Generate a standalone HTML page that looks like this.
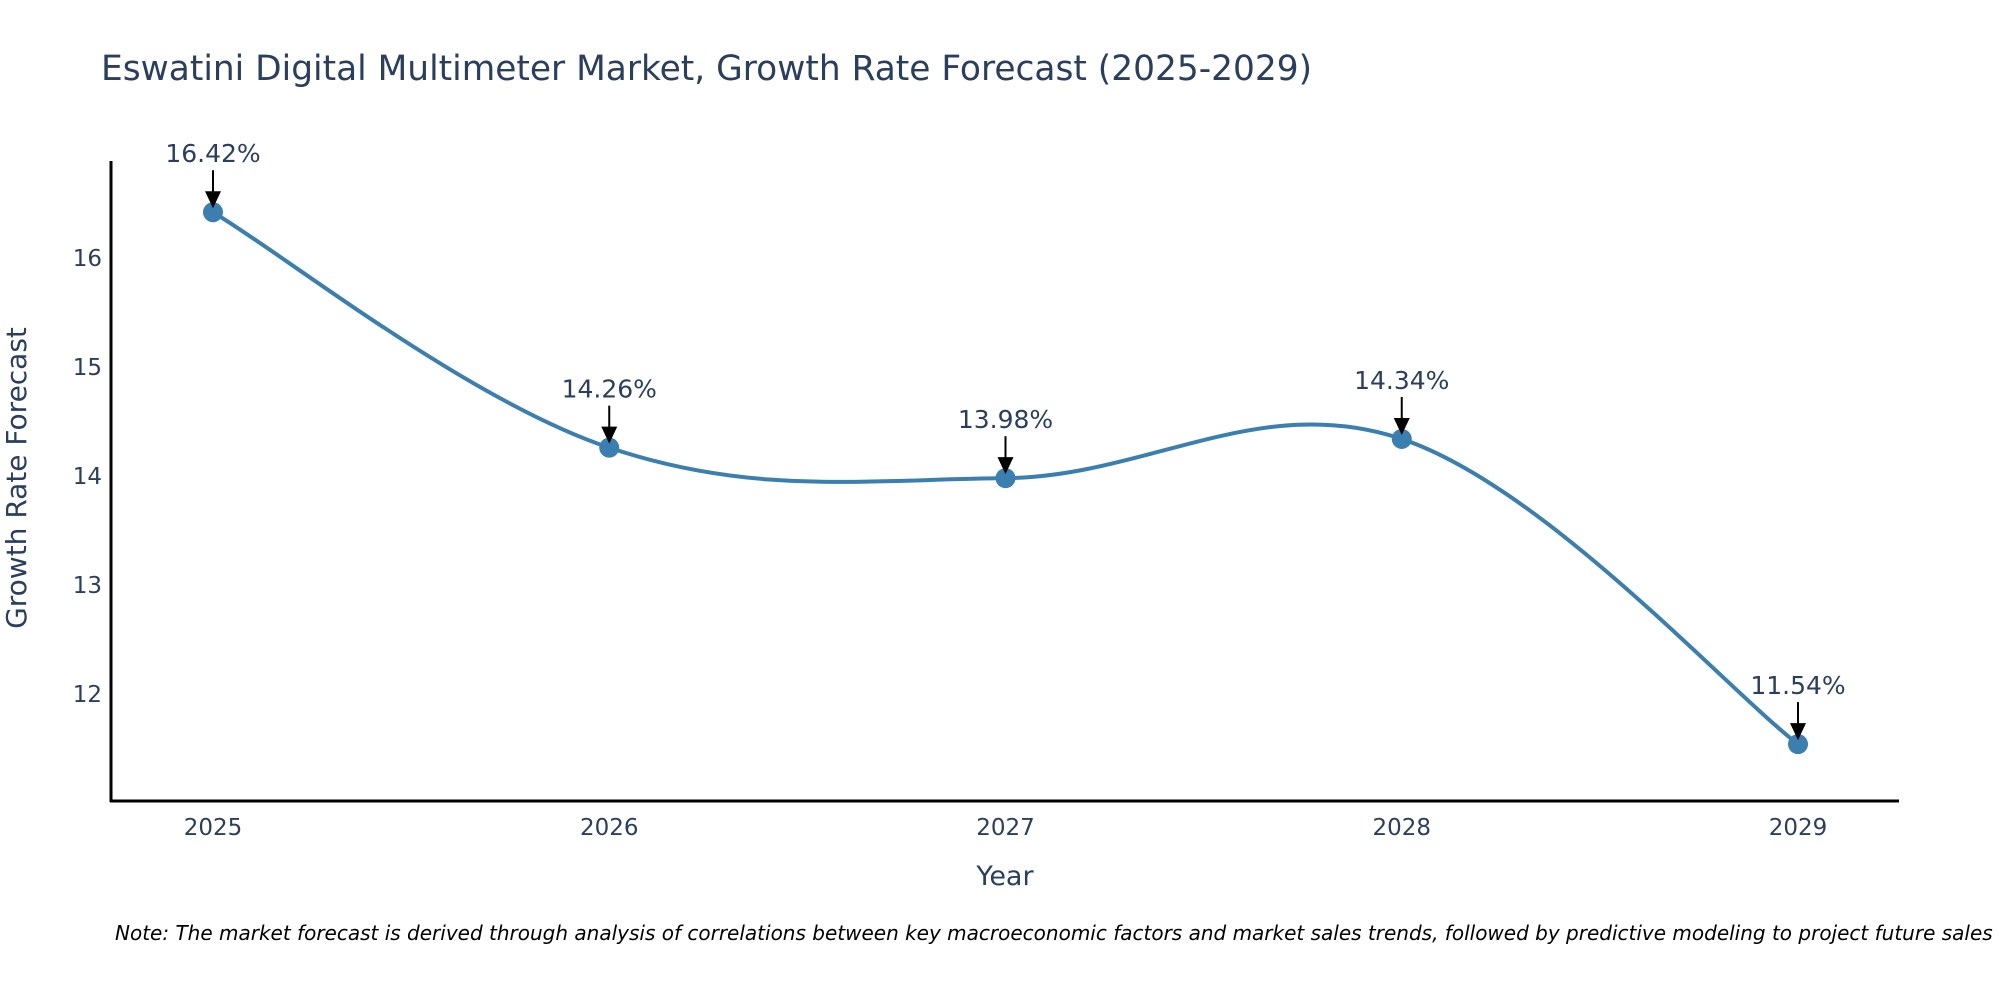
<!DOCTYPE html>
<html><head><meta charset="utf-8"><style>
html,body{margin:0;padding:0;background:#fff;}
svg{display:block;font-family:"DejaVu Sans","Liberation Sans",sans-serif;}
</style></head><body>
<svg id="chart" width="2000" height="1000" viewBox="0 0 2000 1000">
<text x="101" y="80" font-size="34.4" fill="#2a3f5f">Eswatini Digital Multimeter Market, Growth Rate Forecast (2025-2029)</text>
<g id="yticks"></g>
<g id="xticks"></g>
<line x1="111" y1="161" x2="111" y2="802" stroke="#000" stroke-width="3"/>
<line x1="110" y1="801" x2="1899" y2="801" stroke="#000" stroke-width="3"/>
<path id="line" fill="none" stroke="#3a7fb0" stroke-width="4"/>
<g id="marks"></g>
<text x="26" y="478" font-size="28" fill="#2a3f5f" text-anchor="middle" transform="rotate(-90 26 478)">Growth Rate Forecast</text>
<text x="1005" y="885" font-size="27" fill="#2a3f5f" text-anchor="middle">Year</text>
<text x="115" y="940" font-size="20" font-style="italic" fill="#000">Note: The market forecast is derived through analysis of correlations between key macroeconomic factors and market sales trends, followed by predictive modeling to project future sales</text>
</svg>
<script>
const years = ["2025","2026","2027","2028","2029"];
const values = [16.42, 14.26, 13.98, 14.34, 11.54];
const yTicks = [12, 13, 14, 15, 16];
const NS = "http://www.w3.org/2000/svg";
const xLeft = 213, xStep = 396.25;
function xs(i){ return xLeft + i * xStep; }
function ys(v){ return 258 - (v - 16) * 109; }
const yg = document.getElementById("yticks"), xg = document.getElementById("xticks");
yTicks.forEach(t => {
  const el = document.createElementNS(NS, "text");
  el.setAttribute("x", 102); el.setAttribute("y", ys(t) + 8);
  el.setAttribute("text-anchor", "end"); el.setAttribute("font-size", "23"); el.setAttribute("fill", "#2a3f5f");
  
  
  el.textContent = t; yg.appendChild(el);
});
years.forEach((y, i) => {
  const el = document.createElementNS(NS, "text");
  el.setAttribute("x", xs(i)); el.setAttribute("y", 835);
  el.setAttribute("text-anchor", "middle"); el.setAttribute("font-size", "23"); el.setAttribute("fill", "#2a3f5f");
  
  
  el.textContent = y; xg.appendChild(el);
});
const pts = values.map((v, i) => [xs(i), ys(v)]);
let d = "M" + pts[0][0] + "," + pts[0][1];
const k = 0.18;
for (let i = 0; i < pts.length - 1; i++) {
  const p0 = pts[Math.max(i - 1, 0)], p1 = pts[i], p2 = pts[i + 1], p3 = pts[Math.min(i + 2, pts.length - 1)];
  const c1 = [p1[0] + (p2[0] - p0[0]) * k, p1[1] + (p2[1] - p0[1]) * k];
  const c2 = [p2[0] - (p3[0] - p1[0]) * k, p2[1] - (p3[1] - p1[1]) * k];
  d += " C" + c1[0] + "," + c1[1] + " " + c2[0] + "," + c2[1] + " " + p2[0] + "," + p2[1];
}
document.getElementById("line").setAttribute("d", d);
const mg = document.getElementById("marks");
values.forEach((v, i) => {
  const x = xs(i), y = ys(v);
  const c = document.createElementNS(NS, "circle");
  c.setAttribute("cx", x); c.setAttribute("cy", y); c.setAttribute("r", 10); c.setAttribute("fill", "#3a7fb0");
  
  
  mg.appendChild(c);
  const ln = document.createElementNS(NS, "line");
  ln.setAttribute("x1", x); ln.setAttribute("x2", x); ln.setAttribute("y1", y - 42); ln.setAttribute("y2", y - 18);
  ln.setAttribute("stroke", "#000"); ln.setAttribute("stroke-width", "2");
  
  
  mg.appendChild(ln);
  const ah = document.createElementNS(NS, "polygon");
  ah.setAttribute("points", (x - 8) + "," + (y - 21) + " " + (x + 8) + "," + (y - 21) + " " + x + "," + (y - 4));
  ah.setAttribute("fill", "#000");
  
  
  mg.appendChild(ah);
  const t = document.createElementNS(NS, "text");
  t.setAttribute("x", x); t.setAttribute("y", y - 50);
  t.setAttribute("text-anchor", "middle"); t.setAttribute("font-size", "25"); t.setAttribute("fill", "#2a3f5f");
  
  
  t.textContent = v.toFixed(2) + "%";
  mg.appendChild(t);
});
</script>
</body></html>
